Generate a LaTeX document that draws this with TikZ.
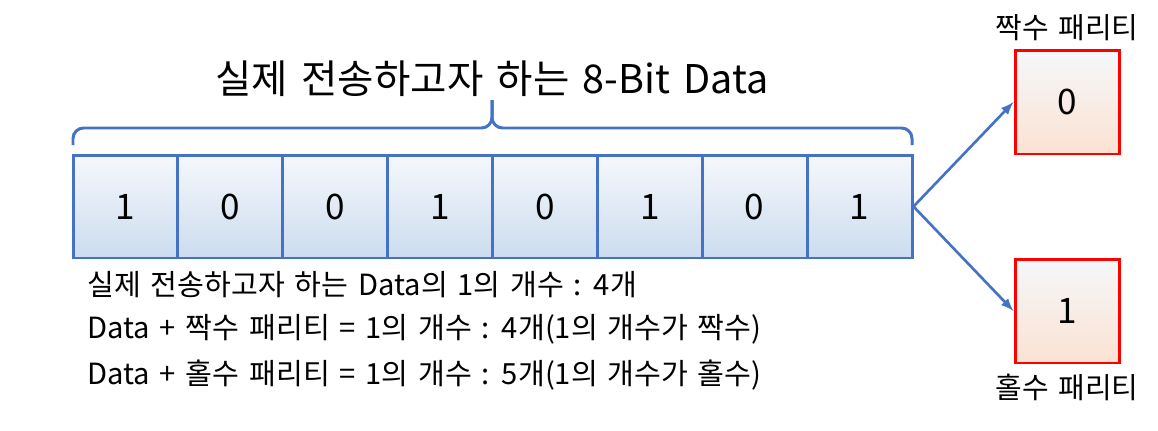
\documentclass[tikz,border=0pt]{standalone}
\usepackage{fontspec}
\setmainfont{Noto Sans CJK KR}
\newfontfamily\widekr[WordSpace=1.5]{Noto Sans CJK KR}
\usetikzlibrary{positioning}

\definecolor{cellblue}{HTML}{4472C4}
\definecolor{celltop}{HTML}{F5F8FC}
\definecolor{cellbot}{HTML}{CCDCEF}
\definecolor{paritytop}{HTML}{F5F7FA}
\definecolor{paritybot}{HTML}{FBE2D2}

\begin{document}
\begin{tikzpicture}[
      x=0.02cm, y=-0.02cm,
      cell/.style = {draw=cellblue, line width=1.7pt, top color=celltop, bottom color=cellbot,
                     minimum width=2.0975cm, minimum height=2.06cm, inner sep=0pt,
                     font=\fontsize{20}{24}\selectfont},
      parity/.style = {draw=red, line width=1.7pt, top color=paritytop, bottom color=paritybot,
                       minimum width=2.08cm, minimum height=2.08cm, inner sep=0pt,
                       font=\fontsize{20}{24}\selectfont},
      note/.style = {anchor=west, inner sep=0pt, font=\widekr\fontsize{16.6}{18}\selectfont},
      tag/.style = {inner sep=0pt, font=\widekr\fontsize{16.5}{19}\selectfont},
      conn/.style = {cellblue, line width=1.5pt},
      >=latex
    ]
    \useasboundingbox (0,0) rectangle (1158,430);

    % the 8 data bits
    \foreach \b [count=\i] in {1,0,0,1,0,1,0,1}{
      \node[cell] (c\i) at ({73+104.875*(\i-0.5)}, 206.5) {\b};
    }

    % brace over the data
    \coordinate (bl) at (73,145);
    \coordinate (br) at (912,145);
    \coordinate (bm) at (492,128);
    \coordinate (btip) at (492,100);
    \draw[conn, line width=1.7pt, rounded corners=6pt] (bl) |- (bm) -- (btip);
    \draw[conn, line width=1.7pt, rounded corners=6pt] (br) |- (bm) -- (btip);

    \node[inner sep=0pt, font=\widekr\fontsize{22.5}{26}\selectfont] (title) at (492,79) {실제 전송하고자 하는 8-Bit Data};

    % parity bits
    \node[parity] (even) at (1067,102) {0};
    \node[parity] (odd)  at (1067,311) {1};
    \node[tag] (evenlbl) at (1067,28)  {짝수 패리티};
    \node[tag] (oddlbl)  at (1067,387) {홀수 패리티};

    \draw[conn,->] (c8.east) -- (even.west);
    \draw[conn,->] (c8.east) -- (odd.west);

    % explanation
    \node[note] (n1) at (87,285) {실제 전송하고자 하는 Data의 1의 개수 : 4개};
    \node[note] (n2) at (87,329) {Data + 짝수 패리티 = 1의 개수 : 4개(1의 개수가 짝수)};
    \node[note] (n3) at (87,375) {Data + 홀수 패리티 = 1의 개수 : 5개(1의 개수가 홀수)};
  \end{tikzpicture}
\end{document}
